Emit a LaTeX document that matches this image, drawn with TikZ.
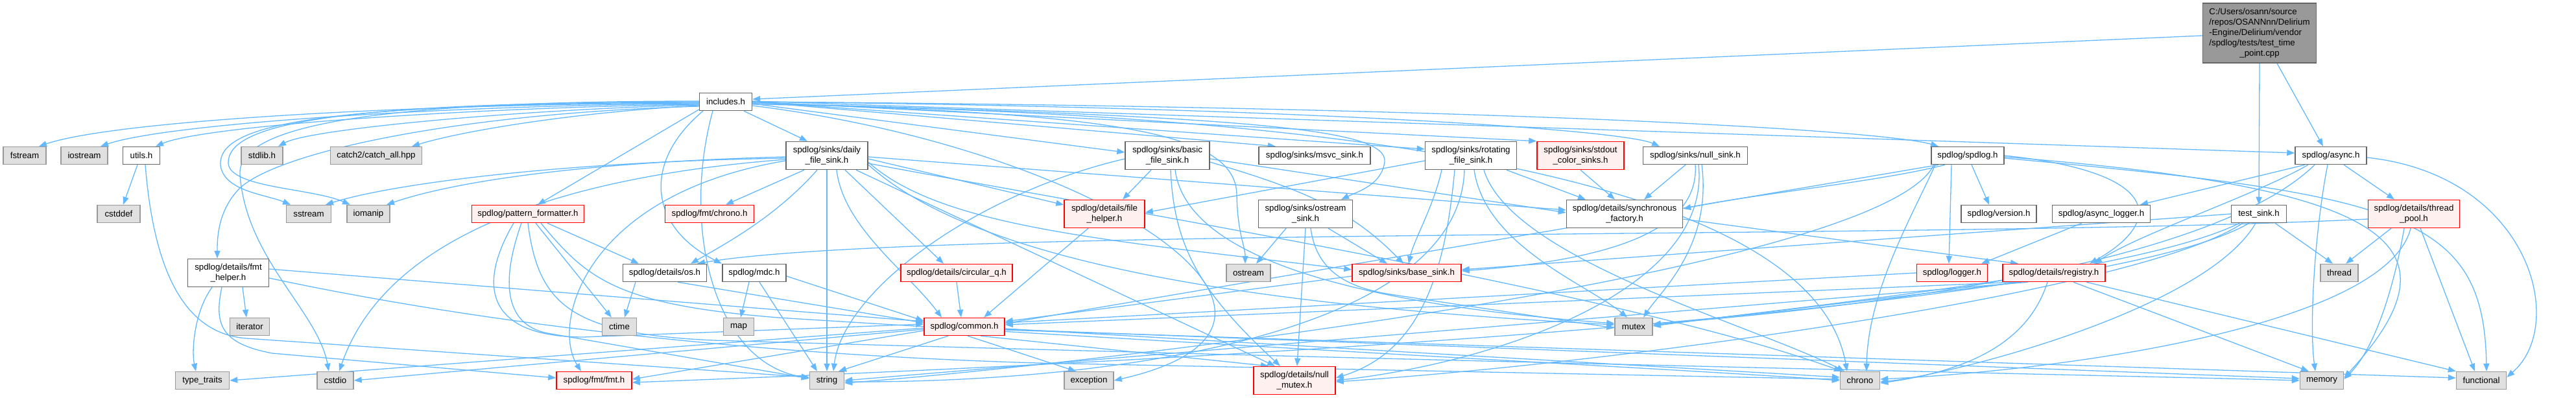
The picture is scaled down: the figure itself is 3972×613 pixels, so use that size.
\documentclass[tikz,border=0pt]{standalone}
\usepackage{fontspec}
\setmainfont{Liberation Sans}
\usetikzlibrary{arrows.meta}
\pgfdeclarelayer{background}
\pgfsetlayers{background,main}
\definecolor{edgeblue}{HTML}{63B8FF}
\definecolor{bordergray}{HTML}{666666}
\definecolor{lightborder}{HTML}{999999}
\definecolor{fillgray}{HTML}{E0E0E0}
\definecolor{fillred}{HTML}{FFF0F0}
\definecolor{topfill}{HTML}{999999}
\tikzset{
  box/.style={line width=1.5pt, font=\fontsize{13.3}{16}\selectfont, inner sep=0pt, minimum height=27pt, align=center},
  sysbox/.style={box, draw=lightborder, fill=fillgray},
  filebox/.style={box, draw=bordergray, fill=white},
  redbox/.style={box, draw=red, fill=fillred},
  twoline/.style={minimum height=43pt},
  edge/.style={draw=edgeblue, line width=1.3pt, -{Triangle[length=12pt,width=9pt]}},
}
\begin{document}
\begin{tikzpicture}[x=1pt,y=-1pt]
\useasboundingbox (0,0) rectangle (3972,613);
% ---- nodes
\node[box, draw=bordergray, fill=topfill, minimum width=175pt, minimum height=92pt] (T) at (3484,51)
  {\begin{tabular}{@{}l@{}}C:/Users/osann/source\\/repos/OSANNnn/Delirium\\-Engine/Delirium/vendor\\/spdlog/tests/test\_time\\\multicolumn{1}{@{}c@{}}{\_point.cpp}\end{tabular}};
\node[filebox, minimum width=81pt] (inc) at (1119,157) {includes.h};
% row 1
\node[sysbox, minimum width=66pt] (fstream) at (38,240) {fstream};
\node[sysbox, minimum width=72pt] (iostream) at (130,240) {iostream};
\node[filebox, minimum width=57pt] (utils) at (218,240) {utils.h};
\node[sysbox, minimum width=64pt] (stdlibh) at (404,240) {stdlib.h};
\node[sysbox, minimum width=141pt] (catch) at (580,240) {catch2/catch\_all.hpp};
\node[filebox, twoline, minimum width=126pt] (daily) at (1275,240) {spdlog/sinks/daily\\\_file\_sink.h};
\node[filebox, twoline, minimum width=130pt] (basic) at (1800,240) {spdlog/sinks/basic\\\_file\_sink.h};
\node[filebox, minimum width=172pt] (msvc) at (2027,240) {spdlog/sinks/msvc\_sink.h};
\node[filebox, twoline, minimum width=141pt] (rot) at (2268,240) {spdlog/sinks/rotating\\\_file\_sink.h};
\node[redbox, twoline, minimum width=134pt] (stdoutc) at (2437,240) {spdlog/sinks/stdout\\\_color\_sinks.h};
\node[filebox, minimum width=161pt] (nullsink) at (2614,240) {spdlog/sinks/null\_sink.h};
\node[filebox, minimum width=112pt] (spdlogh) at (3034,240) {spdlog/spdlog.h};
\node[filebox, minimum width=110pt] (async) at (3594,240) {spdlog/async.h};
% row 2
\node[sysbox, minimum width=66pt] (cstddef) at (183,330) {cstddef};
\node[sysbox, minimum width=69pt] (sstream) at (476,330) {sstream};
\node[sysbox, minimum width=66pt] (iomanip) at (568,330) {iomanip};
\node[redbox, minimum width=173pt] (pf) at (814,330) {spdlog/pattern\_formatter.h};
\node[redbox, minimum width=137pt] (fchrono) at (1094,330) {spdlog/fmt/chrono.h};
\node[redbox, twoline, minimum width=124pt] (fileh) at (1703,330) {spdlog/details/file\\\_helper.h};
\node[filebox, twoline, minimum width=145pt] (osink) at (2013,330) {spdlog/sinks/ostream\\\_sink.h};
\node[filebox, twoline, minimum width=179pt] (sf) at (2505,330) {spdlog/details/synchronous\\\_factory.h};
\node[filebox, minimum width=116pt] (version) at (3082,330) {spdlog/version.h};
\node[filebox, minimum width=151pt] (alogger) at (3240,330) {spdlog/async\_logger.h};
\node[filebox, minimum width=85pt] (tsink) at (3483,330) {test\_sink.h};
\node[redbox, twoline, minimum width=141pt] (tpool) at (3722,330) {spdlog/details/thread\\\_pool.h};
% row 3
\node[filebox, twoline, minimum width=125pt] (fmth) at (352,421) {spdlog/details/fmt\\\_helper.h};
\node[filebox, minimum width=129pt] (osh) at (1025,421) {spdlog/details/os.h};
\node[filebox, minimum width=98pt] (mdc) at (1163,421) {spdlog/mdc.h};
\node[redbox, minimum width=172pt] (circq) at (1475,421) {spdlog/details/circular\_q.h};
\node[sysbox, minimum width=68pt] (ostream) at (1925,421) {ostream};
\node[redbox, minimum width=168pt] (basesink) at (2169,421) {spdlog/sinks/base\_sink.h};
\node[redbox, minimum width=109pt] (logger) at (3010,421) {spdlog/logger.h};
\node[redbox, minimum width=158pt] (registry) at (3167,421) {spdlog/details/registry.h};
\node[sysbox, minimum width=58pt] (thread) at (3607,421) {thread};
% row 4
\node[sysbox, minimum width=61pt] (iterator) at (385,504) {iterator};
\node[sysbox, minimum width=53pt] (ctime) at (955,504) {ctime};
\node[sysbox, minimum width=47pt] (map) at (1139,504) {map};
\node[redbox, minimum width=124pt] (common) at (1487,504) {spdlog/common.h};
\node[sysbox, minimum width=58pt] (mutex) at (2519,504) {mutex};
% row 5
\node[sysbox, minimum width=83pt] (typetraits) at (312,587) {type\_traits};
\node[sysbox, minimum width=56pt] (cstdio) at (517,587) {cstdio};
\node[redbox, minimum width=116pt] (fmt) at (916,587) {spdlog/fmt/fmt.h};
\node[sysbox, minimum width=53pt] (string) at (1275,587) {string};
\node[sysbox, minimum width=76pt] (exception) at (1679,587) {exception};
\node[redbox, twoline, minimum width=126pt] (nullmutex) at (1996,587) {spdlog/details/null\\\_mutex.h};
\node[sysbox, minimum width=61pt] (chrono) at (2868,587) {chrono};
\node[sysbox, minimum width=67pt] (memory) at (3580,587) {memory};
\node[sysbox, minimum width=77pt] (functional) at (3826,587) {functional};

\begin{pgfonlayer}{background}
% ---- edges: top file
\draw[edge] ([yshift=-4pt]T.west) -- ([yshift=4pt]inc.east);
\draw[edge] (T.south) -- (tsink.north);
\draw[edge] ([xshift=27pt]T.south) -- ([xshift=-12pt]async.north);
% ---- includes.h
\draw[edge] ([yshift=-2pt]inc.west) .. controls (650,160) and (180,185) .. ([xshift=22pt]fstream.north);
\draw[edge] ([yshift=-3pt]inc.west) .. controls (700,162) and (260,190) .. ([xshift=25pt]iostream.north);
\draw[edge] ([yshift=-4pt]inc.west) .. controls (760,165) and (320,192) .. ([xshift=22pt]utils.north);
\draw[edge] ([yshift=-5pt]inc.west) .. controls (820,168) and (480,198) .. ([xshift=25pt]stdlibh.north);
\draw[edge] ([yshift=-6pt]inc.west) .. controls (900,172) and (720,200) .. ([xshift=55pt]catch.north);
\draw[edge] ([yshift=-1pt]inc.west) .. controls (500,160) and (335,190) .. (340,255) .. controls (345,295) and (410,300) .. ([xshift=-28pt]sstream.north);
\draw[edge] (inc.west) .. controls (520,158) and (350,190) .. (352,252) .. controls (355,290) and (480,290) .. ([xshift=-28pt]iomanip.north);
\draw[edge] ([yshift=1pt]inc.west) .. controls (540,156) and (365,200) .. (370,270) .. controls (380,400) and (490,480) .. ([xshift=-10pt]cstdio.north);
\draw[edge] ([yshift=-7pt]inc.west) .. controls (700,175) and (430,235) .. (370,290) .. controls (335,325) and (335,370) .. ([xshift=-17pt]fmth.north);
\draw[edge] ([yshift=-12pt]inc.west) -- ([xshift=15pt]pf.north);
\draw[edge] ([xshift=-35pt]inc.south) .. controls (990,250) and (1000,350) .. ([xshift=-50pt]mdc.north);
\draw[edge] ([xshift=-20pt]inc.south) .. controls (1050,350) and (1100,560) .. ([yshift=4pt]string.west);
\draw[edge] ([xshift=28pt]inc.south) -- ([xshift=-30pt]daily.north);
\draw[edge] ([yshift=-3pt]inc.east) -- ([yshift=5pt]basic.west);
\draw[edge] (inc.east) -- ([xshift=-60pt]msvc.north);
\draw[edge] (inc.east) -- ([yshift=10pt]rot.west);
\draw[edge] (inc.east) -- (stdoutc.north west);
\draw[edge] (inc.east) .. controls (2000,165) and (2500,200) .. ([xshift=-55pt]nullsink.north);
\draw[edge] (inc.east) .. controls (2300,165) and (2900,200) .. ([xshift=-45pt]spdlogh.north);
\draw[edge] ([yshift=1pt]inc.east) -- ([yshift=4pt]async.west);
\draw[edge] ([yshift=-2pt]inc.east) .. controls (1700,175) and (1905,200) .. (1907,300) .. controls (1908,360) and (1920,380) .. ([xshift=-5pt]ostream.north);
\draw[edge] ([yshift=-2pt]inc.east) .. controls (1950,180) and (2140,200) .. (2135,250) .. controls (2130,285) and (2095,295) .. ([xshift=55pt]osink.north);
\draw[edge] ([yshift=-4pt]inc.east) .. controls (2200,175) and (2800,300) .. ([xshift=-20pt]chrono.north);
\draw[edge] ([yshift=-6pt]inc.east) .. controls (1700,230) and (2100,500) .. (exception.east);
% ---- utils.h
\draw[edge] ([xshift=-6pt]utils.south) -- ([xshift=7pt]cstddef.north);
\draw[edge] ([xshift=6pt]utils.south) .. controls (238,430) and (290,515) .. (380,522) -- ([yshift=5pt]string.west);
% ---- fmt_helper.h
\draw[edge] ([xshift=22pt]fmth.south) -- ([xshift=-5pt]iterator.north);
\draw[edge] ([xshift=-25pt]fmth.south) .. controls (300,480) and (295,540) .. ([xshift=-10pt]typetraits.north);
\draw[edge] ([xshift=-10pt]fmth.south) .. controls (330,500) and (340,530) .. (420,545) -- ([yshift=4pt]fmt.west);
\draw[edge] ([yshift=6pt]fmth.east) -- ([yshift=8pt]common.west);
\draw[edge] ([yshift=-8pt]fmth.east) .. controls (700,490) and (1100,545) .. (1600,560) -- ([yshift=2pt]chrono.west);
% ---- pattern_formatter.h
\draw[edge] ([xshift=30pt]pf.south) -- ([xshift=-40pt]osh.north);
\draw[edge] ([xshift=12pt]pf.south) -- ([xshift=-12pt]ctime.north);
\draw[edge] ([xshift=20pt]pf.south) .. controls (905,430) and (950,470) .. (1200,490) .. controls (2000,540) and (2600,570) .. (chrono.west);
\draw[edge] (pf.south) .. controls (830,470) and (880,515) .. (1100,525) .. controls (2300,560) and (3300,580) .. (memory.west);
\draw[edge] ([xshift=-10pt]pf.south) .. controls (770,440) and (780,505) .. (850,515) -- ([yshift=3pt]string.west);
\draw[edge] ([xshift=-22pt]pf.south) .. controls (730,450) and (760,520) .. (900,520) -- ([yshift=4pt]common.west);
% ---- daily_file_sink.h
\draw[edge] ([xshift=-35pt]daily.south) -- ([xshift=25pt]fchrono.north);
\draw[edge] ([xshift=15pt]daily.south) .. controls (1300,350) and (1400,420) .. ([xshift=-35pt]common.north);
\draw[edge] ([xshift=28pt]daily.south) -- ([xshift=-20pt]circq.north);
\draw[edge] ([yshift=-5pt]daily.east) -- ([yshift=14pt]fileh.west);
\draw[edge] ([xshift=45pt]daily.south) -- ([xshift=-30pt]nullmutex.north);
\draw[edge] ([xshift=-15pt]daily.south) .. controls (1200,330) and (1130,370) .. ([xshift=40pt]osh.north);
\draw[edge] ([yshift=-2pt]daily.east) -- ([yshift=6pt]sf.west);
\draw[edge] ([yshift=-8pt]daily.west) .. controls (900,300) and (850,500) .. ([xshift=-20pt]fmt.north);
\draw[edge] ([yshift=-10pt]daily.east) .. controls (1450,350) and (1700,370) .. ([yshift=5pt]basesink.west);
\draw[edge] ([yshift=-12pt]daily.east) .. controls (1700,320) and (2500,450) .. ([xshift=-28pt]chrono.north);
\draw[edge] ([yshift=-6pt]daily.west) .. controls (900,270) and (600,350) .. ([xshift=6pt]cstdio.north);
\draw[edge] ([yshift=-2pt]daily.west) .. controls (900,250) and (700,280) .. ([xshift=28pt]iomanip.north);
\draw[edge] ([yshift=-4pt]daily.west) .. controls (850,250) and (600,285) .. ([xshift=26pt]sstream.north);
\draw[edge] ([yshift=-14pt]daily.east) .. controls (1500,400) and (1900,470) .. ([yshift=3pt]mutex.west);
\draw[edge] (daily.south) -- (string.north);
% ---- basic_file_sink.h
\draw[edge] ([xshift=-25pt]basic.south) -- ([xshift=28pt]fileh.north);
\draw[edge] ([xshift=5pt]basic.south) .. controls (1810,380) and (1850,450) .. ([xshift=-22pt]nullmutex.north);
\draw[edge] ([yshift=-5pt]basic.east) -- ([yshift=2pt]sf.west);
\draw[edge] ([yshift=-10pt]basic.east) .. controls (2000,290) and (2080,320) .. ([xshift=-5pt]basesink.north);
\draw[edge] ([xshift=12pt]basic.south) .. controls (1830,400) and (2100,470) .. ([yshift=5pt]mutex.west);
\draw[edge] ([yshift=-5pt]basic.west) .. controls (1500,300) and (1300,450) .. ([xshift=10pt]string.north);
% ---- rotating_file_sink.h
\draw[edge] ([yshift=-8pt]rot.west) -- ([yshift=2pt]fileh.east);
\draw[edge] ([xshift=-25pt]rot.south) .. controls (2230,400) and (2200,540) .. ([yshift=4pt]nullmutex.east);
\draw[edge] ([xshift=55pt]rot.south) -- ([xshift=-60pt]sf.north);
\draw[edge] ([xshift=-45pt]rot.south) .. controls (2210,320) and (2180,370) .. ([xshift=3pt]basesink.north);
\draw[edge] ([xshift=20pt]rot.south) .. controls (2330,400) and (2700,500) .. ([xshift=-24pt]chrono.north);
\draw[edge] ([xshift=5pt]rot.south) .. controls (2290,380) and (2450,440) .. ([xshift=-10pt]mutex.north);
\draw[edge] ([xshift=-10pt]rot.south) .. controls (2250,520) and (1700,590) .. ([yshift=-2pt]string.east);
% ---- stdout_color_sinks.h
\draw[edge] (stdoutc.south) -- ([xshift=-15pt]sf.north);
% ---- null_sink.h
\draw[edge] ([xshift=-15pt]nullsink.south) -- ([xshift=30pt]sf.north);
\draw[edge] ([xshift=5pt]nullsink.south) .. controls (2640,450) and (2300,560) .. (nullmutex.east);
\draw[edge] (nullsink.south) .. controls (2620,350) and (2500,400) .. ([yshift=3pt]basesink.east);
\draw[edge] ([xshift=10pt]nullsink.south) .. controls (2640,380) and (2560,450) .. ([xshift=15pt]mutex.north);
% ---- ostream_sink.h
\draw[edge] ([xshift=-30pt]osink.south) -- ([xshift=12pt]ostream.north);
\draw[edge] ([xshift=35pt]osink.south) -- ([xshift=-30pt]basesink.north);
\draw[edge] ([xshift=8pt]osink.south) .. controls (2030,420) and (2080,445) .. (2150,455) -- ([yshift=-2pt]mutex.west);
\draw[edge] (osink.south) -- ([xshift=4pt]nullmutex.north);
% ---- spdlog.h
\draw[edge] ([xshift=-45pt]spdlogh.south) -- ([yshift=5pt]common.east);
\draw[edge] (spdlogh.east) .. controls (3330,265) and (3340,340) .. ([xshift=55pt]registry.north);
\draw[edge] ([xshift=-35pt]spdlogh.south) .. controls (2900,280) and (2700,300) .. ([yshift=8pt]sf.east);
\draw[edge] ([xshift=-25pt]spdlogh.south) -- ([xshift=-5pt]logger.north);
\draw[edge] ([xshift=6pt]spdlogh.south) -- ([xshift=-15pt]version.north);
\draw[edge] ([xshift=-50pt]spdlogh.south) .. controls (2950,330) and (2880,450) .. ([xshift=10pt]chrono.north);
\draw[edge] ([yshift=-4pt]spdlogh.east) .. controls (3700,300) and (3830,330) .. ([xshift=8pt]functional.north);
\draw[edge] ([yshift=-2pt]spdlogh.east) .. controls (3700,290) and (3800,380) .. ([yshift=4pt]memory.east);
\draw[edge] ([xshift=-52pt]spdlogh.south) .. controls (2900,420) and (1700,560) .. ([yshift=-4pt]string.east);
% ---- async.h
\draw[edge] ([xshift=-40pt]async.south) -- ([xshift=60pt]alogger.north);
\draw[edge] ([xshift=-35pt]async.south) .. controls (3480,300) and (3300,360) .. ([xshift=62pt]registry.north);
\draw[edge] ([xshift=20pt]async.south) -- ([xshift=-30pt]tpool.north);
\draw[edge] ([yshift=-3pt]async.east) .. controls (3900,270) and (3960,500) .. ([yshift=5pt]functional.east);
\draw[edge] ([xshift=-5pt]async.south) .. controls (3570,350) and (3560,500) .. ([xshift=-10pt]memory.north);
\draw[edge] ([xshift=-25pt]async.south) .. controls (3400,420) and (2800,480) .. ([yshift=4pt]mutex.east);
% ---- test_sink.h
\draw[edge] ([xshift=25pt]tsink.south) -- ([xshift=-10pt]thread.north);
\draw[edge] (tsink.west) -- ([yshift=5pt]basesink.east);
\draw[edge] ([xshift=-25pt]tsink.south) .. controls (3300,450) and (2500,560) .. ([yshift=-2pt]nullmutex.east);
\draw[edge] ([xshift=-15pt]tsink.south) .. controls (3200,500) and (1500,570) .. ([yshift=-3pt]fmt.east);
\draw[edge] ([xshift=-5pt]tsink.south) .. controls (3400,480) and (3000,580) .. ([yshift=-2pt]chrono.east);
\draw[edge] ([xshift=-30pt]tsink.south) .. controls (3300,420) and (2800,470) .. ([yshift=1pt]mutex.east);
% ---- thread_pool.h
\draw[edge] ([yshift=-8pt]tpool.west) .. controls (3000,370) and (1400,350) .. ([xshift=50pt]osh.north);
\draw[edge] ([xshift=-35pt]tpool.south) -- ([xshift=10pt]thread.north);
\draw[edge] ([xshift=-15pt]tpool.south) .. controls (3690,450) and (3660,540) .. ([yshift=2pt]memory.east);
\draw[edge] ([xshift=10pt]tpool.south) -- ([xshift=-10pt]functional.north);
\draw[edge] ([xshift=-5pt]tpool.south) .. controls (3680,500) and (3200,570) .. ([yshift=2pt]chrono.east);
% ---- async_logger.h, logger.h, base_sink.h, synchronous_factory.h
\draw[edge] ([xshift=-30pt]alogger.south) -- ([xshift=45pt]logger.north);
\draw[edge] (logger.west) -- ([yshift=6pt]common.east);
\draw[edge] ([yshift=-5pt]basesink.west) -- ([yshift=8pt]common.east);
\draw[edge] ([yshift=-8pt]sf.east) -- ([xshift=-55pt]registry.north);
% ---- registry.h
\draw[edge] ([xshift=-60pt]registry.south) -- ([yshift=3pt]common.east);
\draw[edge] ([xshift=-10pt]registry.south) .. controls (3130,520) and (3050,570) .. ([yshift=-4pt]chrono.east);
\draw[edge] ([xshift=30pt]registry.south) -- ([xshift=-20pt]memory.north);
\draw[edge] ([xshift=50pt]registry.south) -- (functional.north west);
\draw[edge] ([xshift=-50pt]registry.south) -- ([yshift=2pt]mutex.east);
\draw[edge] ([xshift=-40pt]registry.south) -- (string.east);
% ---- os.h, mdc.h, circular_q.h, file_helper.h
\draw[edge] ([xshift=-45pt]osh.south) -- ([xshift=8pt]ctime.north);
\draw[edge] ([xshift=20pt]osh.south) -- ([yshift=6pt]common.west);
\draw[edge] ([xshift=-8pt]mdc.south) -- ([xshift=3pt]map.north);
\draw[edge] ([xshift=8pt]mdc.south) -- ([xshift=-15pt]string.north);
\draw[edge] ([yshift=-5pt]mdc.east) -- ([yshift=9pt]common.west);
\draw[edge] (circq.south) -- ([xshift=-5pt]common.north);
\draw[edge] ([xshift=-25pt]fileh.south) -- ([xshift=30pt]common.north);
% ---- common.h
\draw[edge] ([xshift=25pt]common.south) -- ([xshift=-40pt]nullmutex.north);
\draw[edge] ([yshift=-3pt]common.east) -- ([yshift=5pt]chrono.west);
\draw[edge] ([yshift=-4pt]common.west) -- (cstdio.east);
\draw[edge] ([xshift=5pt]common.south) -- ([xshift=-20pt]exception.north);
\draw[edge] ([yshift=-5pt]common.east) -- ([yshift=4pt]functional.west);
\draw[edge] ([yshift=-4pt]common.east) -- ([yshift=3pt]memory.west);
\draw[edge] ([xshift=-25pt]common.south) -- ([xshift=18pt]string.north);
\draw[edge] ([yshift=-2pt]common.west) -- (typetraits.east);
\draw[edge] ([yshift=-6pt]common.west) -- ([yshift=2pt]fmt.east);
\end{pgfonlayer}
\end{tikzpicture}
\end{document}
